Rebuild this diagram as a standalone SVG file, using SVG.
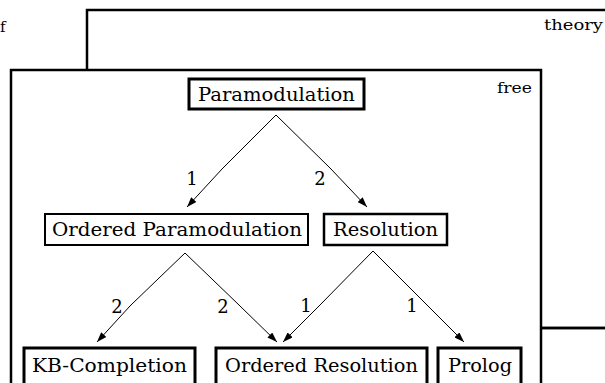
<svg xmlns="http://www.w3.org/2000/svg" width="605" height="383" viewBox="0 0 605 383">
<defs>
<style>
.frame{fill:none;stroke:#000;stroke-width:2.5}
.node{fill:#fff;stroke:#000}
text{font-family:'DejaVu Serif','Liberation Serif',serif;fill:#000}
.t{font-size:19px}
.s{font-size:15px}
.lbl{font-size:18px;text-anchor:middle}
.edge{fill:none;stroke:#000;stroke-width:1;marker-end:url(#ah)}
</style>
<marker id="ah" viewBox="0 0 10 7" refX="10" refY="3.5" markerWidth="11" markerHeight="7" markerUnits="userSpaceOnUse" orient="auto">
<path d="M0,0 L10,3.5 L0,7 z" fill="#000"/>
</marker>
</defs>
<rect width="605" height="383" fill="#fff"/>
<g id="theory">
<rect class="frame" x="87" y="10" width="560" height="318"/>
<text class="s" x="544" y="30" textLength="59" lengthAdjust="spacingAndGlyphs">theory</text>
</g>
<text class="s" x="0" y="32">f</text>
<g id="free">
<rect x="11" y="70" width="530" height="340" fill="#fff" stroke="#000" stroke-width="2.5"/>
<text class="s" x="497" y="93" textLength="35" lengthAdjust="spacingAndGlyphs">free</text>
</g>
<g id="n-paramodulation">
<rect class="node" x="189" y="79" width="175" height="30" stroke-width="3"/>
<text class="t" x="198" y="101" textLength="157" lengthAdjust="spacingAndGlyphs">Paramodulation</text>
</g>
<g id="n-ordered-paramodulation">
<rect class="node" x="45" y="214" width="263" height="31" stroke-width="2"/>
<text class="t" x="52" y="236" textLength="250" lengthAdjust="spacingAndGlyphs">Ordered Paramodulation</text>
</g>
<g id="n-resolution">
<rect class="node" x="324" y="214" width="123" height="31" stroke-width="2.5"/>
<text class="t" x="333" y="236" textLength="105" lengthAdjust="spacingAndGlyphs">Resolution</text>
</g>
<g id="n-kb-completion">
<rect class="node" x="24" y="348" width="171" height="50" stroke-width="3"/>
<text class="t" x="32" y="372" textLength="155" lengthAdjust="spacingAndGlyphs">KB-Completion</text>
</g>
<g id="n-ordered-resolution">
<rect class="node" x="216" y="348" width="211" height="50" stroke-width="3"/>
<text class="t" x="225" y="372" textLength="193" lengthAdjust="spacingAndGlyphs">Ordered Resolution</text>
</g>
<g id="n-prolog">
<rect class="node" x="438" y="348" width="83" height="50" stroke-width="3"/>
<text class="t" x="448" y="372" textLength="64" lengthAdjust="spacingAndGlyphs">Prolog</text>
</g>
<g id="connectors">
<line x1="541" y1="328" x2="605" y2="328" stroke="#000" stroke-width="2.5"/>
<polyline class="edge" points="276,115 223,168 222,169 187,207"/>
<polyline class="edge" points="276,115 330,168 331,169 367,207"/>
<polyline class="edge" points="185,253 131,305 130,306 97,342"/>
<polyline class="edge" points="185,253 239,305 240,306 277,342"/>
<polyline class="edge" points="373,251 320,305 319,306 283,342"/>
<polyline class="edge" points="373,251 427,305 428,306 464,342"/>
<text class="lbl" x="192" y="185">1</text>
<text class="lbl" x="320" y="185">2</text>
<text class="lbl" x="117" y="313">2</text>
<text class="lbl" x="223" y="313">2</text>
<text class="lbl" x="306" y="312">1</text>
<text class="lbl" x="412" y="312">1</text>
</g>
</svg>
